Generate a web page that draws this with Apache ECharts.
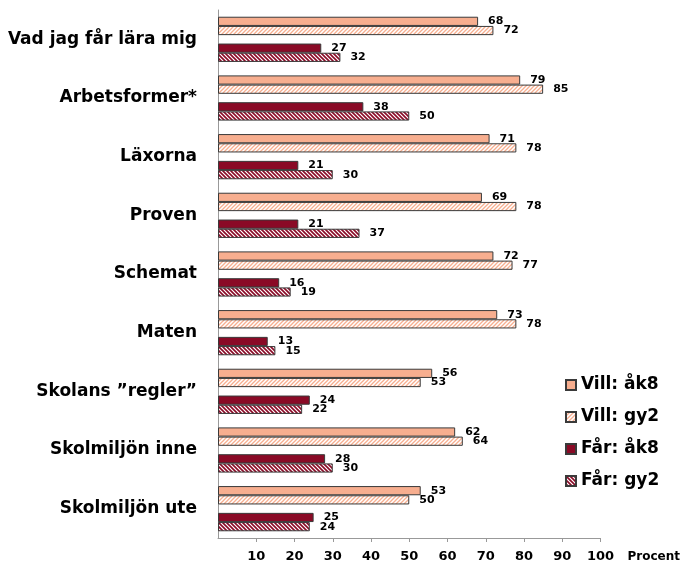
<!DOCTYPE html>
<html><head><meta charset="utf-8">
<script src="https://cdn.jsdelivr.net/npm/echarts@6/dist/echarts.min.js"></script>
<style>html,body{margin:0;padding:0;background:#fff}#c{width:683px;height:568px}</style>
</head><body><div id="c"></div>
<script>
const categories = ['Vad jag får lära mig','Arbetsformer*','Läxorna','Proven','Schemat','Maten','Skolans ”regler”','Skolmiljön inne','Skolmiljön ute'];
const villAk8 = [68,79,71,69,72,73,56,62,53];
const villGy2 = [72,85,78,78,77,78,53,64,50];
const farAk8 = [27,38,21,21,16,13,24,28,25];
const farGy2 = [32,50,30,37,19,15,22,30,24];
const seriesNames = ['Vill: åk8','Vill: gy2','Får: åk8','Får: gy2'];
const axisName = 'Procent';

function hatch(color, dir, lw) {
  const s = 4;
  const c = document.createElement('canvas');
  c.width = s; c.height = s;
  const g = c.getContext('2d');
  g.fillStyle = '#fff'; g.fillRect(0,0,s,s);
  g.strokeStyle = color; g.lineWidth = lw;
  g.beginPath();
  if (dir === '/') {
    g.moveTo(0,s); g.lineTo(s,0);
    g.moveTo(-1,1); g.lineTo(1,-1);
    g.moveTo(s-1,s+1); g.lineTo(s+1,s-1);
  } else {
    g.moveTo(0,0); g.lineTo(s,s);
    g.moveTo(-1,s-1); g.lineTo(1,s+1);
    g.moveTo(s-1,-1); g.lineTo(s+1,1);
  }
  g.stroke();
  return {image: c, repeat: 'repeat'};
}

const salmon = '#F7AE8F';
const darkRed = '#8A0A26';
const border = '#3a3a3a';
const labelStyle = {show:true, position:'right', distance:10, fontFamily:'DejaVu Sans', fontWeight:'bold', fontSize:11, color:'#000'};

function mk(name, data, fill) {
  return {name, type:'bar', data, barWidth:9.2, barGap:0,
    itemStyle:{color:fill, borderColor:border, borderWidth:1},
    label:labelStyle, emphasis:{disabled:true}};
}

const chart = echarts.init(document.getElementById('c'), null, {renderer:'canvas'});
chart.setOption({
  animation:false,
  grid:{left:218, right:82, top:10, bottom:30},
  legend:{data:seriesNames, orient:'vertical', left:560, top:371, itemWidth:10, itemHeight:10, itemGap:14, itemTextGap:7,
    icon:'rect', textStyle:{fontFamily:'DejaVu Sans', fontWeight:'bold', fontSize:17, color:'#000', lineHeight:18}},
  xAxis:{type:'value', min:0, max:100, interval:10,
    name:axisName, nameLocation:'end', nameGap:27,
    nameTextStyle:{fontFamily:'DejaVu Sans', fontWeight:'bold', fontSize:12, color:'#000', align:'left', verticalAlign:'top', padding:[13,0,0,0]},
    axisLine:{show:true, lineStyle:{color:'#999'}}, axisTick:{show:true, length:4, lineStyle:{color:'#999'}},
    splitLine:{show:false},
    axisLabel:{showMinLabel:false, margin:12, fontFamily:'DejaVu Sans', fontWeight:'bold', fontSize:13, color:'#000'}},
  yAxis:{type:'category', inverse:true, data:categories,
    axisLine:{lineStyle:{color:'#999'}}, axisTick:{length:6, lineStyle:{color:'#999'}},
    axisLabel:{margin:21, fontFamily:'DejaVu Sans', fontWeight:'bold', fontSize:17, color:'#000'}},
  series:[
    mk(seriesNames[0], villAk8, salmon),
    mk(seriesNames[1], villGy2, hatch(salmon,'/',1.3)),
    {name:'spacer', type:'bar', data:[], barWidth:8.4, barGap:0, silent:true},
    mk(seriesNames[2], farAk8, darkRed),
    mk(seriesNames[3], farGy2, hatch(darkRed,'\\',1.6))
  ]
});
</script></body></html>
